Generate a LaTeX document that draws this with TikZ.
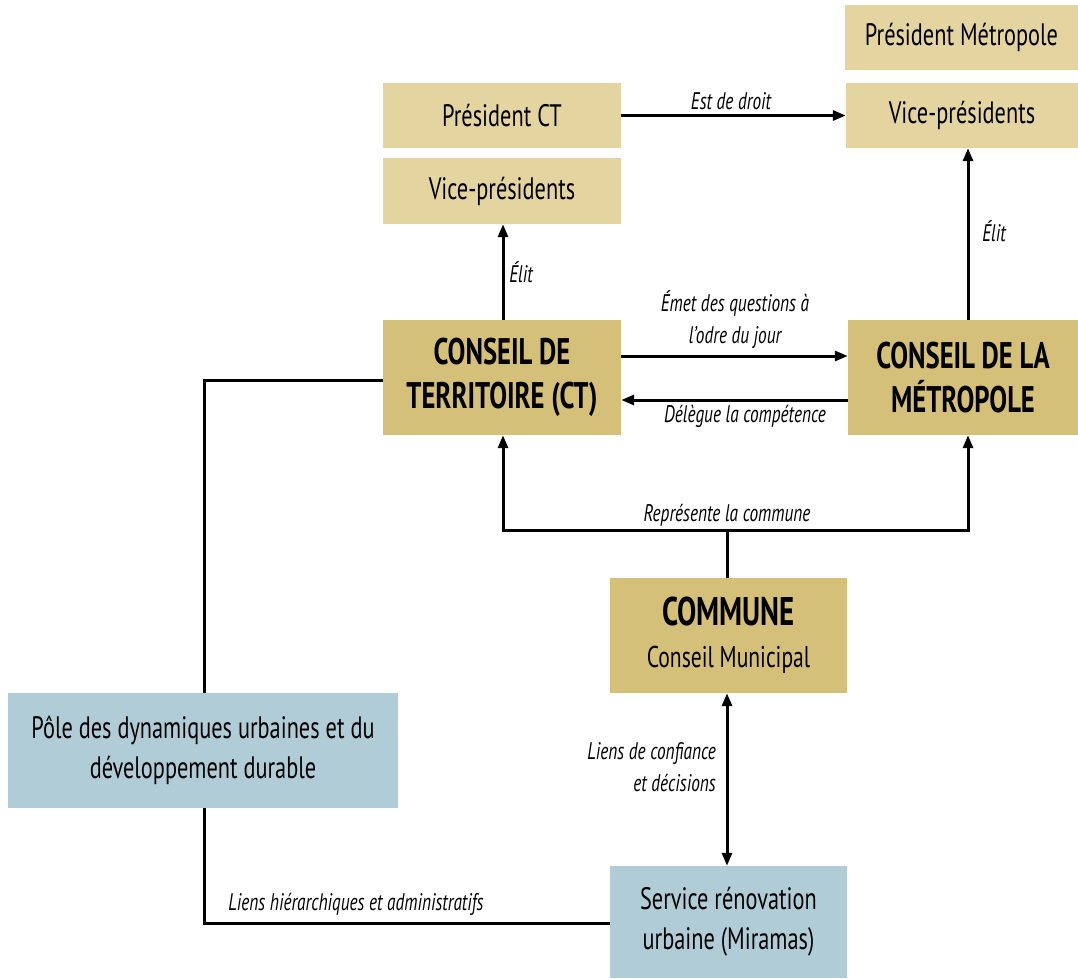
\documentclass[tikz,border=0pt]{standalone}
\usepackage{fontspec}
\setmainfont{PT Sans}[FakeStretch=0.72]
\usetikzlibrary{arrows.meta,calc}
\definecolor{light}{RGB}{227,212,160}
\definecolor{dark}{RGB}{213,192,121}
\definecolor{blue}{RGB}{176,204,214}
\tikzset{
  box/.style={inner sep=0pt, align=center, text=black},
  lbox/.style={box, fill=light, font=\fontsize{31}{40}\selectfont},
  dbox/.style={box, fill=dark, font=\bfseries\fontsize{37}{44}\selectfont},
  bbox/.style={box, fill=blue, font=\fontsize{31}{40}\selectfont},
  conn/.style={line width=3pt, black},
  arr/.style={conn, -{Triangle[length=13pt,width=10pt]}},
  darr/.style={conn, {Triangle[length=13pt,width=10pt]}-{Triangle[length=13pt,width=10pt]}},
  lab/.style={font=\itshape\fontsize{24}{32}\selectfont, inner sep=0pt, align=center},
}
\begin{document}
\begin{tikzpicture}[x=1pt,y=-1pt]
\useasboundingbox (0,0) rectangle (1078,978);
% boxes
\node[lbox, minimum width=233, minimum height=65] (pm) at (961.5,37.5) {Président Métropole};
\node[lbox, minimum width=232, minimum height=65] (vpr) at (962,115.5) {Vice-présidents};
\node[lbox, minimum width=238, minimum height=65] (pct) at (502,115.5) {Président CT};
\node[lbox, minimum width=238, minimum height=66] (vpl) at (502,191) {Vice-présidents};
\node[dbox, minimum width=238, minimum height=115] (ct) at (502,377.5) {CONSEIL DE\\TERRITOIRE (CT)};
\node[dbox, minimum width=230, minimum height=115] (met) at (963,377.5) {CONSEIL DE LA\\MÉTROPOLE};
\node[box, fill=dark, minimum width=237, minimum height=115, font=\fontsize{30}{42}\selectfont] (com) at (728.5,635.5)
  {{\bfseries\fontsize{40}{42}\selectfont COMMUNE}\\Conseil Municipal};
\node[bbox, minimum width=390, minimum height=115] (pole) at (203,750.5) {Pôle des dynamiques urbaines et du\\développement durable};
\node[bbox, minimum width=237, minimum height=112] (serv) at (728.5,922) {Service rénovation\\urbaine (Miramas)};
% helper coordinates
\coordinate (xl) at (503,0);
\coordinate (xr) at (968,0);
\coordinate (xc) at (727,0);
\coordinate (yrep) at (0,530);
\coordinate (xp) at (204,0);
\coordinate (yct) at (0,380);
\coordinate (yh) at (0,923);
\coordinate (y1) at (0,356);
\coordinate (y2) at (0,400);
% connectors
\draw[arr] (pct.east) -- (vpr.west);
\draw[arr] (ct.north -| xl) -- (vpl.south -| xl);
\draw[arr] (met.north -| xr) -- (vpr.south -| xr);
\draw[arr] (ct.east |- y1) -- (met.west |- y1);
\draw[arr] (met.west |- y2) -- (ct.east |- y2);
\draw[conn] (com.north -| xc) -- (xc |- yrep);
\draw[arr] (xl |- yrep) -- (ct.south -| xl);
\draw[arr] (xr |- yrep) -- (met.south -| xr);
\draw[conn] ($(xl |- yrep)+(-1.5,0)$) -- ($(xr |- yrep)+(1.5,0)$);
\draw[darr] (com.south -| xc) -- (serv.north -| xc);
\draw[conn] (ct.west |- yct) -- (xp |- yct) -- (pole.north -| xp);
\draw[conn] (pole.south -| xp) -- (xp |- yh) -- (serv.west |- yh);
% labels
\node[lab] (l1) at (731,101) {Est de droit};
\node[lab] (l2) at (521,272) {Élit};
\node[lab] (l3) at (994,231) {Élit};
\node[lab] (l4) at (735,320) {Émet des questions à\\l'odre du jour};
\node[lab] (l5) at (745,416) {Délègue la compétence};
\node[lab] (l6) at (727,515) {Représente la commune};
\node[lab, align=right, anchor=east] (l7) at (716,767) {Liens de confiance\\et décisions};
\node[lab] (l8) at (356,904) {Liens hiérarchiques et administratifs};
\end{tikzpicture}
\end{document}
